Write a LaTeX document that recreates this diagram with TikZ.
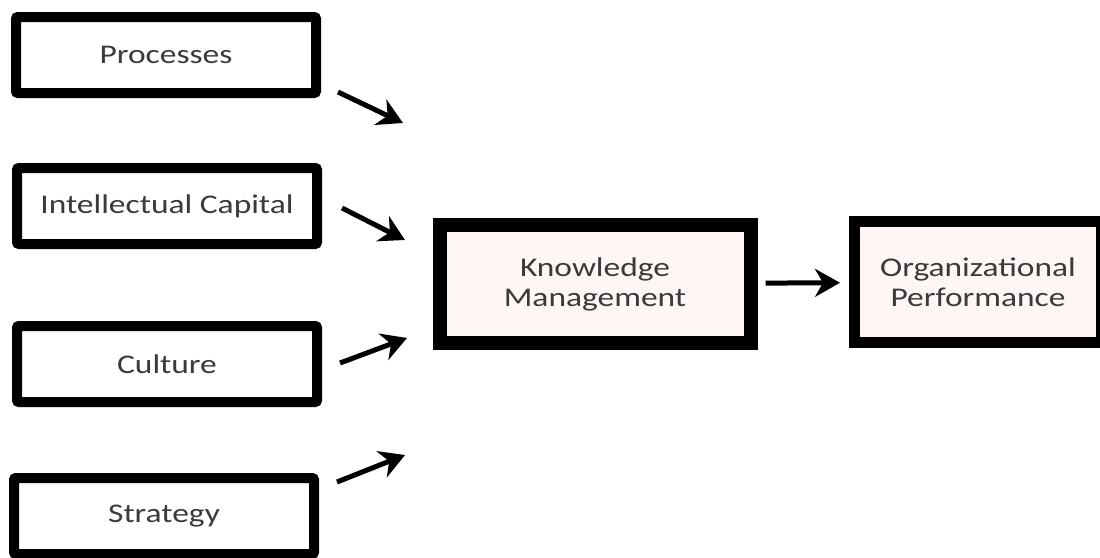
\documentclass[tikz,border=0pt]{standalone}
\usepackage{fontspec}
\setmainfont{Carlito}[FakeStretch=1.24]
\usetikzlibrary{arrows.meta}
\definecolor{boxpink}{HTML}{FDF6F4}
\definecolor{labelgray}{HTML}{3A3A3A}
\tikzstyle{factor}=[draw=black, line width=10pt, fill=white, rounded corners=2pt, minimum width=300pt, minimum height=76pt, text=labelgray, font=\fontsize{27}{30}\selectfont]
\tikzstyle{outcome}=[draw=black, fill=boxpink, align=center, text=labelgray, font=\fontsize{27}{30}\selectfont]
\tikzstyle{link}=[-{Stealth[length=25pt,width=28pt,inset=8pt]}, line width=5pt]

\begin{document}
\begin{tikzpicture}[x=1pt, y=-1pt]
	\useasboundingbox (0,0) rectangle (1100,557);
	\node[factor] (proc) at (166,55) {Processes};
	\node[factor] (intcap) at (167,206) {Intellectual Capital};
	\node[factor] (cult) at (167,364) {Culture};
	\node[factor] (strat) at (164,516) {Strategy};
	\node[outcome, line width=14pt, minimum width=311pt, minimum height=118pt] (km) at (595,284) {Knowledge\\Management};
	\node[outcome, line width=11pt, minimum width=247pt, minimum height=121pt] (orgperf) at (978,282) {Organizational\\Performance};
	\coordinate (proc out) at (338,92);
	\coordinate (proc in) at (403,123);
	\coordinate (intcap out) at (342,208);
	\coordinate (intcap in) at (405,240);
	\coordinate (cult out) at (340,363);
	\coordinate (cult in) at (407,338);
	\coordinate (strat out) at (337,482);
	\coordinate (strat in) at (405,455);
	\draw[link] (proc out) -- (proc in);
	\draw[link] (intcap out) -- (intcap in);
	\draw[link] (cult out) -- (cult in);
	\draw[link] (strat out) -- (strat in);
	\draw[link, shorten <=8pt, shorten >=9pt] (km) -- (orgperf);
\end{tikzpicture}
\end{document}
